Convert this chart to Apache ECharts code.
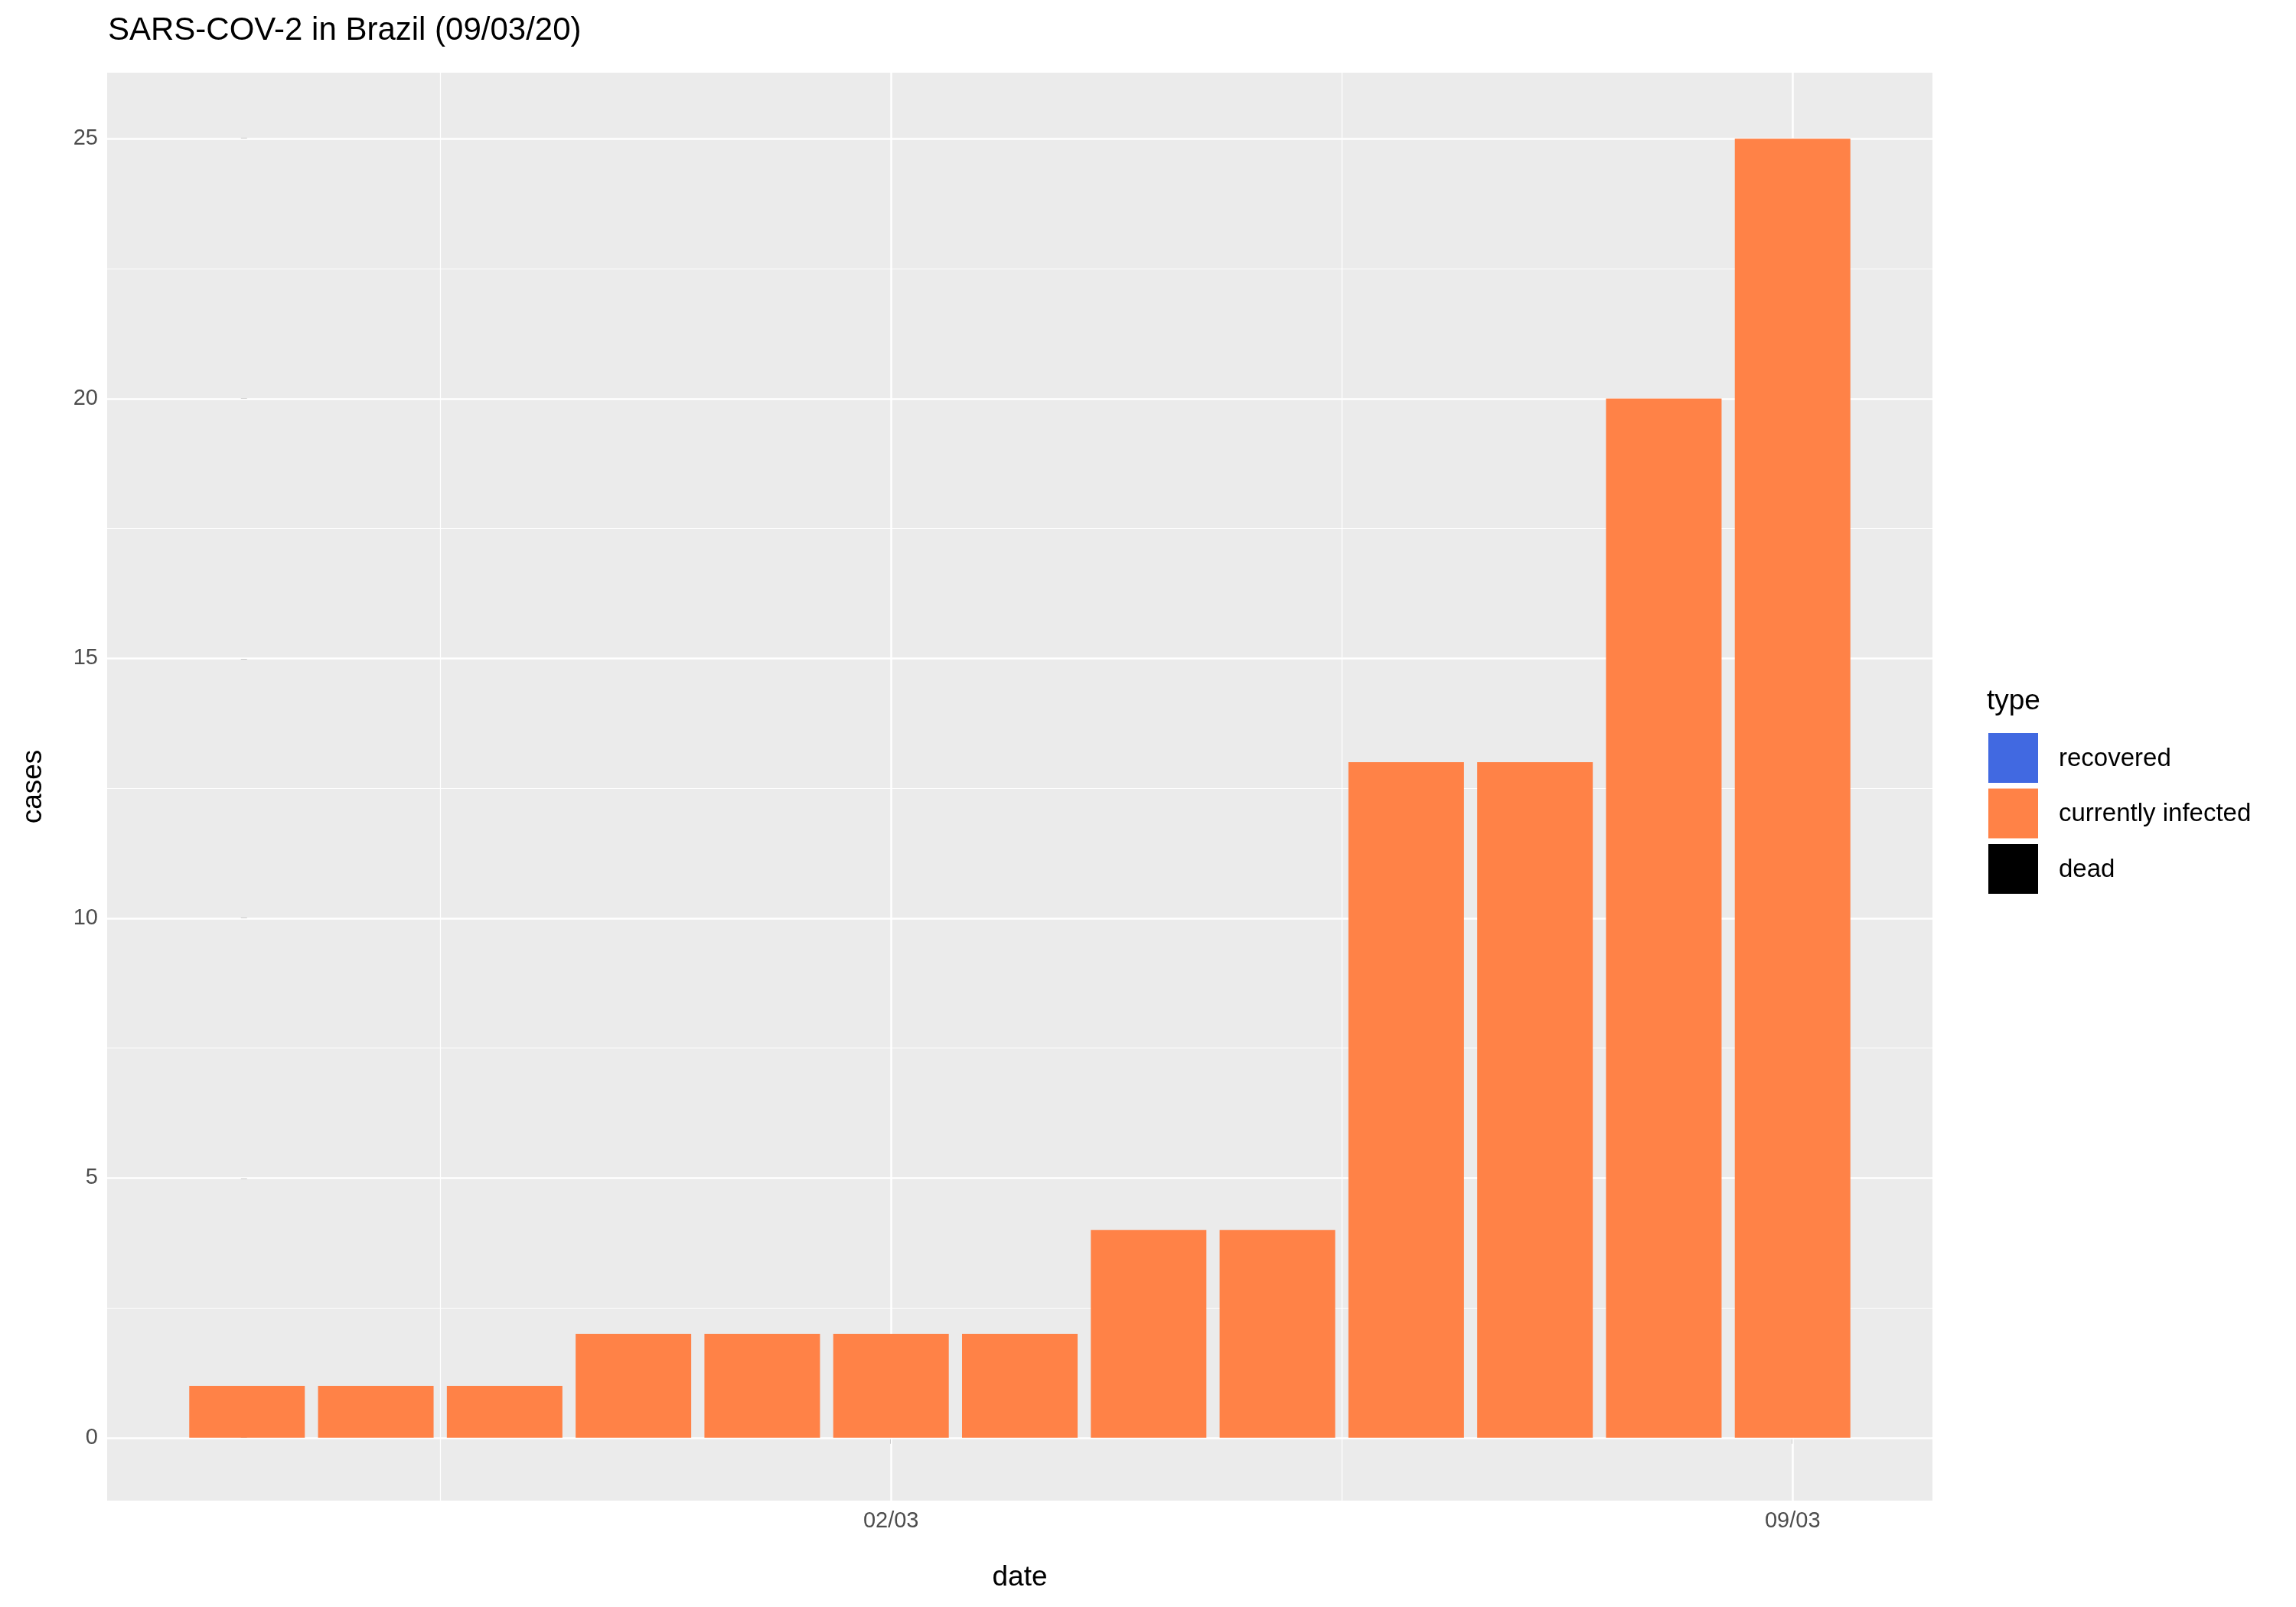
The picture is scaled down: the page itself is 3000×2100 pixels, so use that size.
<!DOCTYPE html>
<html><head><meta charset="utf-8">
<script src="https://cdn.jsdelivr.net/npm/echarts@6/dist/echarts.min.js"></script>
<style>html,body{margin:0;padding:0;background:#fff}#c{width:3000px;height:2100px}</style>
</head><body><div id="c"></div>
<script>
const dates = ['26/02','27/02','28/02','29/02','01/03','02/03','03/03','04/03','05/03','06/03','07/03','08/03','09/03'];
const infected = [1,1,1,2,2,2,2,4,4,13,13,20,25];
const yMajor = [0,5,10,15,20,25];
const yMinor = [2.5,7.5,12.5,17.5,22.5];
const xMajor = [5,12];
const xMinor = [1.5,8.5];
const legendItems = ['recovered','currently infected','dead'];
const legendColors = ['#4169E1','#FF8247','#000000'];

const chart = echarts.init(document.getElementById('c'));
const F = 'Liberation Sans, Arial, sans-serif';
const lines = [];
yMajor.forEach(v=>lines.push({yAxis:v,lineStyle:{width:2.5}}));
yMinor.forEach(v=>lines.push({yAxis:v,lineStyle:{width:1.2}}));
xMajor.forEach(v=>lines.push({xAxis:v,lineStyle:{width:2.5}}));
xMinor.forEach(v=>lines.push({xAxis:v,lineStyle:{width:1.2}}));
const graphics = [
 {type:'text',left:2596,top:898,style:{text:'type',font:'37px '+F,fill:'#000'}}
];
legendItems.forEach((n,i)=>{
  graphics.push({type:'rect',shape:{x:2598,y:958+i*72.5,width:65,height:65},style:{fill:legendColors[i]}});
  graphics.push({type:'text',left:2690,top:975+i*72.5,style:{text:n,font:'33px '+F,fill:'#000'}});
});
chart.setOption({
  animation:false,
  title:{text:'SARS-COV-2 in Brazil (09/03/20)',left:136,top:14,textStyle:{fontFamily:F,fontWeight:'normal',fontSize:42,color:'#000'}},
  grid:{left:140,right:475,top:95,bottom:139,show:true,backgroundColor:'#EBEBEB',borderWidth:0},
  xAxis:{type:'value',min:-1.086,max:13.086,name:'date',nameLocation:'middle',nameGap:82,
    nameTextStyle:{fontFamily:F,fontSize:37,color:'#000'},
    axisLine:{show:false},splitLine:{show:false},
    axisTick:{show:true,customValues:xMajor,length:8,lineStyle:{color:'#333',width:2}},
    axisLabel:{customValues:xMajor,formatter:v=>dates[Math.round(v)],fontFamily:F,fontSize:29,color:'#4D4D4D',margin:12}},
  yAxis:{type:'value',min:-1.21,max:26.27,name:'cases',nameLocation:'middle',nameGap:78,
    nameTextStyle:{fontFamily:F,fontSize:37,color:'#000'},
    axisLine:{show:false},splitLine:{show:false},
    axisTick:{show:true,customValues:yMajor,length:8,lineStyle:{color:'#333',width:2}},
    axisLabel:{customValues:yMajor,fontFamily:F,fontSize:29,color:'#4D4D4D',margin:12}},
  series:[
    {type:'line',data:[],silent:true,z:1,markLine:{silent:true,symbol:'none',label:{show:false},
      lineStyle:{color:'#fff',type:'solid'},data:lines,animation:false}},
    {type:'bar',z:5,barWidth:151,itemStyle:{color:'#FF8247'},data:infected.map((v,i)=>[i,v])}
  ],
  graphic:graphics
});
</script></body></html>
